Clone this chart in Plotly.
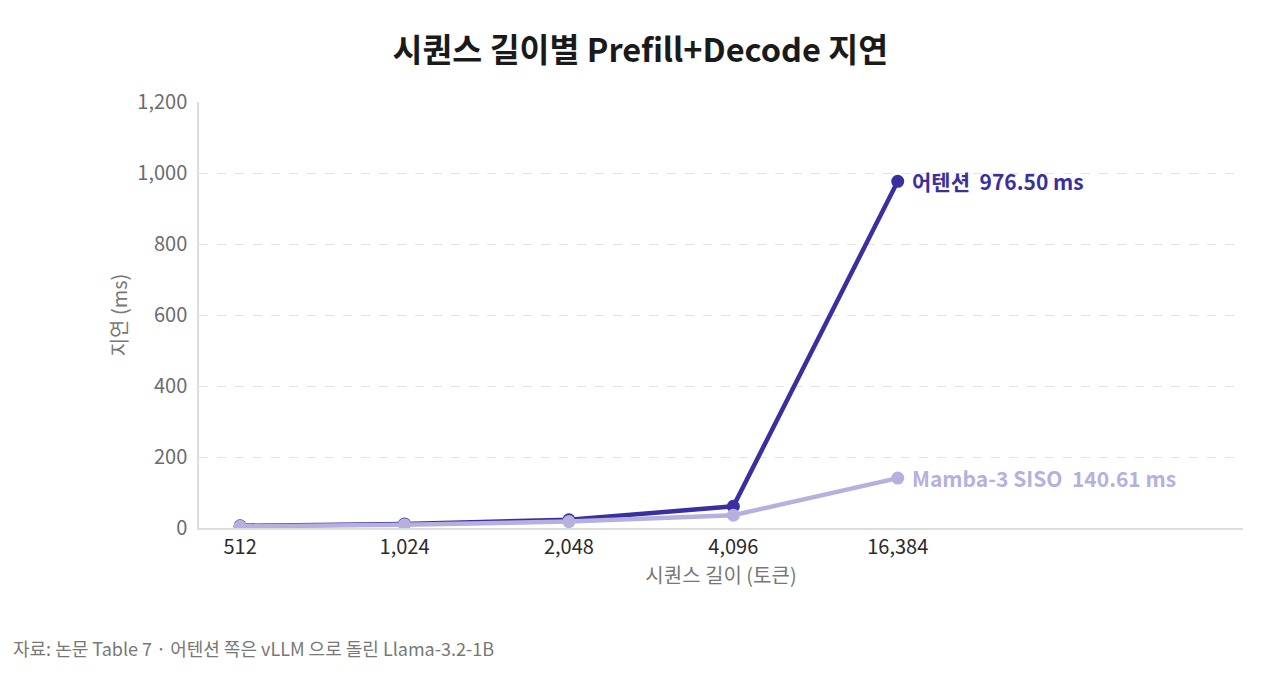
import plotly.graph_objects as go

# sequence lengths (categorical x axis)
seq_labels = ["512", "1,024", "2,048", "4,096", "16,384"]

# latency in ms
attention_ms = [6.2, 11.5, 23, 61, 976.50]
mamba_ms = [4.8, 9.5, 18, 36, 140.61]

y_ticks = [0, 200, 400, 600, 800, 1000, 1200]
y_tick_text = ["0", "200", "400", "600", "800", "1,000", "1,200"]

ATTN_COLOR = "#3a2fa0"
MAMBA_COLOR = "#b5b0de"
FONT = "Noto Sans CJK KR"
GAP = "\u00a0\u00a0"

fig = go.Figure()

fig.add_trace(
    go.Scatter(
        x=seq_labels,
        y=attention_ms,
        mode="lines+markers",
        name="어텐션",
        line=dict(color=ATTN_COLOR, width=4.5),
        marker=dict(color=ATTN_COLOR, size=13),
    )
)
fig.add_trace(
    go.Scatter(
        x=seq_labels,
        y=mamba_ms,
        mode="lines+markers",
        name="Mamba-3 SISO",
        line=dict(color=MAMBA_COLOR, width=4.5),
        marker=dict(color=MAMBA_COLOR, size=13),
    )
)

# end-of-line labels
fig.add_annotation(
    x=seq_labels[-1], y=attention_ms[-1],
    text=f"어텐션{GAP}{attention_ms[-1]:.2f} ms",
    showarrow=False, xanchor="left", xshift=12,
    font=dict(family=FONT, size=21, color=ATTN_COLOR, weight="bold"),
)
fig.add_annotation(
    x=seq_labels[-1], y=mamba_ms[-1],
    text=f"Mamba-3 SISO{GAP}{mamba_ms[-1]:.2f} ms",
    showarrow=False, xanchor="left", xshift=12,
    font=dict(family=FONT, size=21, color=MAMBA_COLOR, weight="bold"),
)

# source note
fig.add_annotation(
    xref="paper", yref="paper", x=-0.18, y=-0.282,
    text="자료: 논문 Table 7 · 어텐션 쪽은 vLLM 으로 돌린 Llama-3.2-1B",
    showarrow=False, xanchor="left", yanchor="middle",
    font=dict(family=FONT, size=18, color="#777777"),
)

fig.update_layout(
    width=1280,
    height=677,
    paper_bgcolor="white",
    plot_bgcolor="white",
    showlegend=False,
    font=dict(family=FONT),
    title=dict(
        text="시퀀스 길이별 Prefill+Decode 지연",
        x=0.494, xanchor="center", y=0.937, yanchor="middle",
        font=dict(family=FONT, size=32.5, color="#1a1a1a", weight="bold"),
    ),
    margin=dict(l=191, r=45, t=94, b=157),
    xaxis=dict(
        type="category",
        range=[-0.25, 6.1],
        showgrid=False,
        showline=True,
        linecolor="#dddddd",
        linewidth=1.5,
        ticks="",
        tickfont=dict(family=FONT, size=20, color="#2a2a2a"),
        title=dict(text="시퀀스 길이 (토큰)", standoff=4,
                   font=dict(family=FONT, size=20, color="#777777")),
    ),
    yaxis=dict(
        range=[0, 1200],
        tickvals=y_ticks,
        ticktext=y_tick_text,
        showgrid=True,
        gridcolor="#e3e3e6",
        griddash="dash",
        gridwidth=1,
        zeroline=False,
        showline=True,
        linecolor="#dddddd",
        linewidth=1.5,
        ticks="",
        ticklabelstandoff=6,
        tickfont=dict(family=FONT, size=20, color="#6b6b72"),
        title=dict(text="지연 (ms)", standoff=4,
                   font=dict(family=FONT, size=20, color="#777777")),
    ),
)

fig.write_html("out.html")
